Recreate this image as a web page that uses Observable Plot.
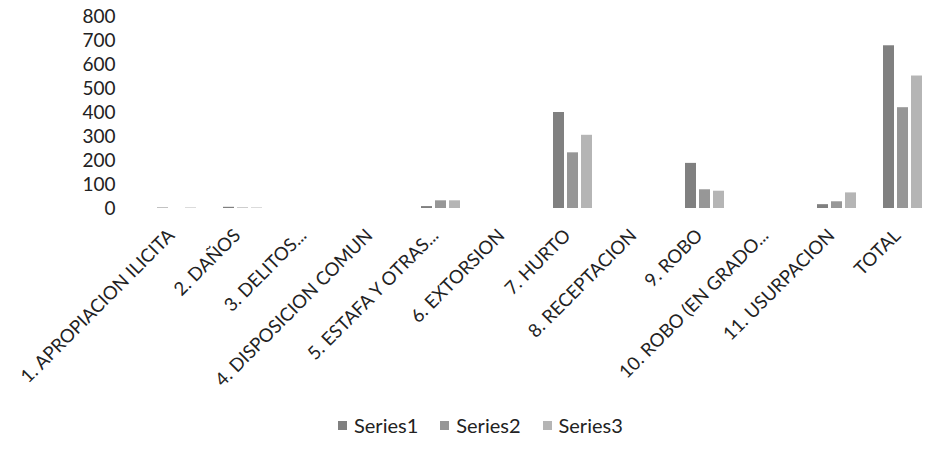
<!DOCTYPE html>
<html><head><meta charset="utf-8">
<script src="https://cdn.jsdelivr.net/npm/d3@7"></script>
<script src="https://cdn.jsdelivr.net/npm/@observablehq/plot@0.6"></script>
<style>
body{margin:0;background:#fff;font-family:Lato, "Noto Sans", sans-serif;}
#wrap{position:relative;width:932px;height:450px;overflow:hidden;}
#legend{position:absolute;left:338px;top:412px;display:flex;align-items:center;font-size:20px;color:#222;line-height:26px;}
#legend .item{display:flex;align-items:center;margin-right:22px;}
#legend .sw{width:9px;height:9px;margin-right:7px;}
</style></head><body><div id="wrap"><div id="chart"></div><div id="legend"></div></div>
<script>
const categories = ["1. APROPIACION ILICITA","2. DAÑOS","3. DELITOS...","4. DISPOSICION COMUN","5. ESTAFA Y OTRAS...","6. EXTORSION","7. HURTO","8. RECEPTACION","9. ROBO","10. ROBO (EN GRADO...","11. USURPACION","TOTAL"];
const seriesNames = ["Series1","Series2","Series3"];
const series1 = [2, 5, 0, 0, 8, 0, 400, 0, 188, 0, 16, 678];
const series2 = [0, 2, 0, 0, 32, 0, 232, 0, 78, 0, 28, 420];
const series3 = [2, 2, 0, 0, 32, 0, 305, 0, 72, 0, 65, 552];
const yTicks = [0,100,200,300,400,500,600,700,800];
const colors = ["#808080","#979797","#b5b5b5"];

const allSeries = [series1, series2, series3];
const data = categories.flatMap((c,i)=>allSeries.map((s,j)=>({category:c, series:seriesNames[j], value:s[i]})));

const plot = Plot.plot({
  width:932, height:400, marginLeft:138, marginRight:-9, marginTop:16, marginBottom:192,
  style:{fontFamily:"Lato, 'Noto Sans', sans-serif", background:"#fff", color:"#222", overflow:"visible"},
  fx:{domain:categories, padding:0, label:null, axis:null},
  x:{domain:seriesNames, paddingInner:0.2, paddingOuter:0.91, axis:null},
  y:{domain:[0,800], label:null, axis:null},
  color:{domain:seriesNames, range:colors},
  marks:[
    Plot.axisY({ticks:yTicks, tickSize:0, tickPadding:29, fontSize:19, label:null}),
    Plot.axisFx({anchor:"bottom", tickRotate:-45, tickSize:0, tickPadding:24, dx:-6, fontSize:18.5, label:null}),
    Plot.barY(data,{fx:"category", x:"series", y:"value", fill:"series"})
  ]
});
document.getElementById("chart").appendChild(plot);

const legend = document.getElementById("legend");
seriesNames.forEach((n,i)=>{
  const it = document.createElement("div"); it.className="item";
  const sw = document.createElement("div"); sw.className="sw"; sw.style.background=colors[i];
  const t = document.createElement("span"); t.textContent=n;
  it.appendChild(sw); it.appendChild(t); legend.appendChild(it);
});
</script></body></html>
